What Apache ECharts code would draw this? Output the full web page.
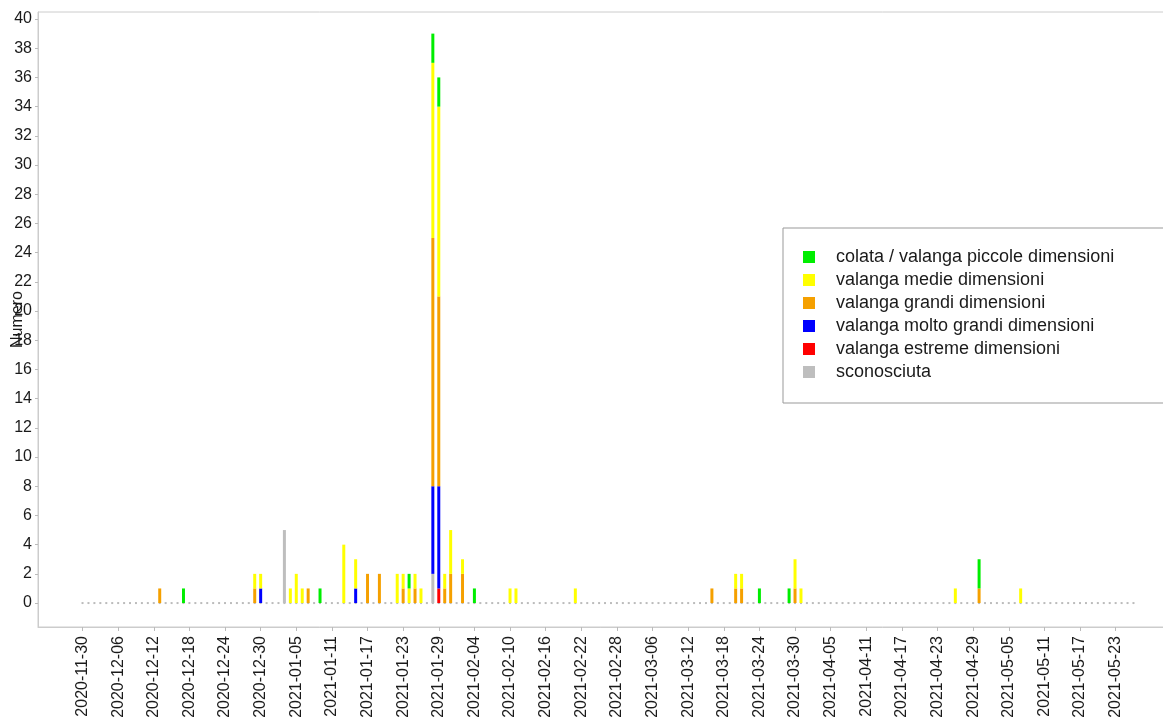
<!DOCTYPE html>
<html>
<head>
<meta charset="utf-8">
<script src="https://cdn.jsdelivr.net/npm/echarts@6/dist/echarts.min.js"></script>
<style>html,body{margin:0;padding:0;background:#fff;}#c{width:1163px;height:720px;}</style>
</head>
<body>
<div id="c"></div>
<script>
// ---- data ----
const firstDay = '2020-11-30';
const lastDay = '2021-05-26';
const eventDates = ['2020-12-13','2020-12-17','2020-12-29','2020-12-30','2021-01-03','2021-01-04','2021-01-05','2021-01-06','2021-01-07','2021-01-09',
  '2021-01-13','2021-01-15','2021-01-17','2021-01-19','2021-01-22','2021-01-23','2021-01-24','2021-01-25','2021-01-26','2021-01-28',
  '2021-01-29','2021-01-30','2021-01-31','2021-02-02','2021-02-04','2021-02-10','2021-02-11','2021-02-21','2021-03-16','2021-03-20',
  '2021-03-21','2021-03-24','2021-03-29','2021-03-30','2021-03-31','2021-04-26','2021-04-30','2021-05-07'];
const piccole = [0,1,0,0,0,0,0,0,0,1, 0,0,0,0,0,0,1,0,0,2, 2,0,0,0,1,0,0,0,0,0, 0,1,1,0,0,0,2,0];
const medie   = [0,0,1,1,0,1,2,1,0,0, 4,2,0,0,2,1,1,1,1,12, 13,1,3,1,0,1,1,1,0,1, 1,0,0,2,1,1,0,1];
const grandi  = [1,0,1,0,0,0,0,0,1,0, 0,0,2,2,0,1,0,1,0,17, 13,1,2,2,0,0,0,0,1,1, 1,0,0,1,0,0,1,0];
const moltoGrandi = [0,0,0,1,0,0,0,0,0,0, 0,1,0,0,0,0,0,0,0,6, 7,0,0,0,0,0,0,0,0,0, 0,0,0,0,0,0,0,0];
const estreme = [0,0,0,0,0,0,0,0,0,0, 0,0,0,0,0,0,0,0,0,0, 1,0,0,0,0,0,0,0,0,0, 0,0,0,0,0,0,0,0];
const sconosciuta = [0,0,0,0,5,0,0,0,0,0, 0,0,0,0,0,0,0,0,0,2, 0,0,0,0,0,0,0,0,0,0, 0,0,0,0,0,0,0,0];
const seriesNames = ['colata / valanga piccole dimensioni','valanga medie dimensioni','valanga grandi dimensioni','valanga molto grandi dimensioni','valanga estreme dimensioni','sconosciuta'];
const seriesColors = ['#00ee00','#ffff00','#f5a000','#0000ff','#ff0000','#bebebe'];
const yTicks = {min:-1.64, max:40.48, step:2};

// ---- build ----
const PAD = 7;
const DAY = 86400000;
function parse(s){const p=s.split('-');return Date.UTC(+p[0],+p[1]-1,+p[2]);}
function fmt(t){const d=new Date(t);const m=d.getUTCMonth()+1, dd=d.getUTCDate();return d.getUTCFullYear()+'-'+(m<10?'0':'')+m+'-'+(dd<10?'0':'')+dd;}
const t0 = parse(firstDay), t1 = parse(lastDay);
const nDays = Math.round((t1-t0)/DAY)+1;
const cats = [];
for(let i=-PAD;i<nDays+PAD;i++) cats.push(fmt(t0+i*DAY));
function dayIdx(s){return Math.round((parse(s)-t0)/DAY);}
function full(vals){
  const arr = cats.map(()=>null);
  eventDates.forEach((d,k)=>{ if(vals[k]) arr[dayIdx(d)+PAD]=vals[k]; });
  return arr;
}
const zeroDots = cats.map((c,i)=> (i>=PAD && i<PAD+nDays) ? 0 : null);
function isLabel(i){const d=i-PAD; return d>=0 && d<nDays && d%6===0;}

const valueSets = [piccole, medie, grandi, moltoGrandi, estreme, sconosciuta];
const barSeries = [];
for(let s=valueSets.length-1;s>=0;s--){
  barSeries.push({
    name: seriesNames[s], type:'bar', stack:'tot', barWidth:3,
    itemStyle:{color:seriesColors[s]},
    data: full(valueSets[s]), z:3, animation:false
  });
}

const chart = echarts.init(document.getElementById('c'), null, {renderer:'canvas'});
chart.setOption({
  animation:false,
  backgroundColor:'#ffffff',
  textStyle:{fontFamily:'Liberation Sans, Arial, sans-serif'},
  grid:{left:38, top:12, right:-15, bottom:93, show:true, borderColor:'#cccccc', borderWidth:1, containLabel:false, outerBoundsMode:'none'},
  legend:{
    orient:'vertical', left:783, top:228,
    data: seriesNames,
    icon:'rect', itemWidth:12, itemHeight:12, itemGap:5,
    padding:[20,60,22,20],
    borderColor:'#999999', borderWidth:1, backgroundColor:'#ffffff',
    textStyle:{fontSize:18, color:'#1a1a1a', fontFamily:'Liberation Sans, Arial, sans-serif', lineHeight:18, padding:[0,0,0,16]},
    selectedMode:false, z:10
  },
  xAxis:{
    type:'category', data:cats, boundaryGap:true,
    axisLine:{show:true, onZero:false, lineStyle:{color:'#cccccc'}},
    axisTick:{show:true, alignWithLabel:true, length:4, lineStyle:{color:'#bbbbbb'}, interval:(i)=>isLabel(i)},
    axisLabel:{rotate:90, fontSize:16, color:'#1a1a1a', margin:9, interval:(i)=>isLabel(i), fontFamily:'Liberation Sans, Arial, sans-serif'},
    splitLine:{show:false}
  },
  yAxis:{
    type:'value', min:yTicks.min, max:yTicks.max, minInterval:yTicks.step, maxInterval:yTicks.step,
    name:'Numero', nameLocation:'middle', nameGap:12, nameRotate:90, nameMoveOverlap:false,
    nameTextStyle:{fontSize:16, color:'#1a1a1a', fontFamily:'Liberation Sans, Arial, sans-serif'},
    axisLine:{show:true, lineStyle:{color:'#cccccc'}},
    axisTick:{show:true, length:3, lineStyle:{color:'#bbbbbb'}},
    axisLabel:{fontSize:16, color:'#1a1a1a', margin:6, showMinLabel:false, showMaxLabel:false,
      formatter:(v)=> (Math.abs(v - Math.round(v))<1e-6 && Math.round(v)%2===0) ? String(Math.round(v)) : ''},
    splitLine:{show:false}
  },
  series: [{
    name:'zero', type:'scatter', data:zeroDots, symbol:'rect', symbolSize:[2,2],
    itemStyle:{color:'#aaaaaa'}, z:1, silent:true, animation:false
  }].concat(barSeries)
});
</script>
</body>
</html>
